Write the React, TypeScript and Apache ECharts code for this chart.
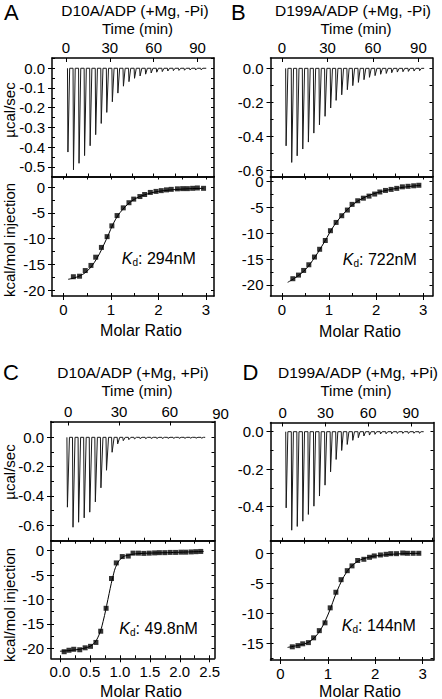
import React, { useEffect, useRef } from "react";
import * as echarts from "echarts";

const FONT = "'Liberation Sans', Arial, Helvetica, sans-serif";

// ---------- shared tick labels ----------
const timeTicks = [0, 30, 60, 90];
const ratioTicks = [0, 1, 2, 3];
const ratioTicksC = [0, 0.5, 1, 1.5, 2, 2.5];
const rawTicksA = [0, -0.1, -0.2, -0.3, -0.4, -0.5];
const rawTicksB = [0, -0.2, -0.4, -0.6];
const rawTicksC = [0, -0.2, -0.4, -0.6];
const rawTicksD = [0, -0.2, -0.4];
const heatTicks = [0, -5, -10, -15, -20];
const heatTicksD = [0, -5, -10, -15];

// ---------- Panel A: D10A/ADP (+Mg, -Pi) ----------
const aTitle = "D10A/ADP (+Mg, -Pi)";
const aKd = ": 294nM";
const aInjTime = [1, 4.8, 8.6, 12.4, 16.2, 20, 23.8, 27.6, 31.4, 35.2, 39, 42.8, 46.6, 50.4, 54.2, 58, 61.8, 65.6, 69.4, 73.2, 77, 80.8, 84.6, 88.4, 92.2];
const aInjPeak = [-0.425, -0.515, -0.482, -0.443, -0.393, -0.337, -0.28, -0.224, -0.17, -0.126, -0.091, -0.068, -0.051, -0.039, -0.03, -0.024, -0.02, -0.017, -0.014, -0.012, -0.011, -0.01, -0.009, -0.009, -0.008];
const aRunEnd = 96;
const aRatio = [0.21, 0.34, 0.46, 0.58, 0.68, 0.8, 0.92, 1.02, 1.13, 1.26, 1.38, 1.48, 1.61, 1.71, 1.83, 1.95, 2.06, 2.17, 2.27, 2.4, 2.51, 2.61, 2.72, 2.82, 2.95];
const aHeat = [-17.4, -17.3, -16.2, -15.2, -13.6, -11.7, -9.6, -7.5, -5.5, -4.0, -3.0, -2.3, -1.8, -1.4, -1.0, -0.8, -0.65, -0.5, -0.4, -0.3, -0.26, -0.26, -0.2, -0.13, -0.2];
const aFitRatio = [0.1, 0.3, 0.5, 0.7, 0.9, 1.1, 1.3, 1.5, 1.7, 2.0, 2.5, 2.95];
const aFitHeat = [-17.9, -17.4, -16.3, -13.9, -10.2, -6.2, -3.8, -2.3, -1.5, -0.8, -0.35, -0.2];

// ---------- Panel B: D199A/ADP (+Mg, -Pi) ----------
const bTitle = "D199A/ADP (+Mg, -Pi)";
const bKd = ": 722nM";
const bInjTime = [2.4, 6.1, 9.7, 13.4, 17.1, 20.7, 24.4, 28.1, 31.8, 35.4, 39.1, 42.8, 46.4, 50.1, 53.8, 57.4, 61.1, 64.8, 68.5, 72.1, 75.8, 79.5, 83.1, 86.8, 90.5];
const bInjPeak = [-0.457, -0.555, -0.516, -0.476, -0.435, -0.382, -0.333, -0.283, -0.234, -0.189, -0.156, -0.126, -0.102, -0.083, -0.067, -0.053, -0.043, -0.035, -0.03, -0.026, -0.022, -0.02, -0.018, -0.016, -0.014];
const bRunEnd = 93.8;
const bRatio = [0.23, 0.35, 0.46, 0.57, 0.69, 0.8, 0.92, 1.03, 1.15, 1.27, 1.39, 1.49, 1.61, 1.73, 1.85, 1.97, 2.08, 2.2, 2.32, 2.44, 2.56, 2.68, 2.8, 2.91];
const bHeat = [-18.8, -18.1, -17.2, -16.1, -14.6, -13.1, -11.4, -9.5, -7.9, -6.6, -5.5, -4.4, -3.7, -3.2, -2.8, -2.4, -2.0, -1.7, -1.5, -1.3, -1.0, -0.9, -0.8, -0.7];
const bFitRatio = [0.12, 0.3, 0.5, 0.7, 0.9, 1.1, 1.3, 1.5, 1.7, 2.0, 2.5, 2.95];
const bFitHeat = [-19.5, -18.5, -17.0, -14.6, -11.7, -8.6, -6.3, -4.5, -3.3, -2.2, -1.2, -0.7];

// ---------- Panel C: D10A/ADP (+Mg, +Pi) ----------
const cTitle = "D10A/ADP (+Mg, +Pi)";
const cKd = ": 49.8nM";
const cInjTime = [-0.8, 2.5, 5.8, 9.1, 12.4, 15.7, 19, 22.3, 25.6, 28.9, 32.2, 35.5, 38.8, 42.1, 45.4, 48.7, 52, 55.3, 58.6, 61.9, 65.2, 68.5, 71.8, 75.1, 78.4];
const cInjPeak = [-0.477, -0.614, -0.58, -0.55, -0.511, -0.441, -0.345, -0.225, -0.102, -0.045, -0.023, -0.016, -0.011, -0.009, -0.009, -0.008, -0.008, -0.008, -0.007, -0.007, -0.007, -0.007, -0.006, -0.006, -0.006];
const cRunEnd = 80.9;
const cRatio = [0.07, 0.15, 0.23, 0.33, 0.42, 0.51, 0.6, 0.68, 0.77, 0.86, 0.94, 1.04, 1.14, 1.22, 1.31, 1.4, 1.49, 1.58, 1.66, 1.75, 1.84, 1.93, 2.02, 2.1, 2.19, 2.27, 2.35];
const cHeat = [-20.7, -20.4, -20.2, -20.3, -19.9, -19.6, -18.8, -16.5, -11.8, -5.7, -2.5, -1.2, -1.1, -0.5, -0.5, -0.55, -0.5, -0.45, -0.4, -0.4, -0.35, -0.35, -0.3, -0.3, -0.25, -0.2, -0.15];
const cFitRatio = [0.0, 0.2, 0.4, 0.55, 0.65, 0.72, 0.8, 0.88, 0.95, 1.05, 1.15, 1.3, 1.8, 2.4];
const cFitHeat = [-20.6, -20.4, -20.0, -19.2, -17.3, -14.5, -10.0, -5.5, -2.8, -1.3, -0.9, -0.6, -0.4, -0.15];

// ---------- Panel D: D199A/ADP (+Mg, +Pi) ----------
const dTitle = "D199A/ADP (+Mg, +Pi)";
const dKd = ": 144nM";
const dInjTime = [2.1, 6, 9.9, 13.8, 17.7, 21.6, 25.5, 29.4, 33.3, 37.2, 41.1, 45, 48.9, 52.8, 56.7, 60.6, 64.5, 68.4, 72.3, 76.2, 80.1, 84, 87.9, 91.8, 95.7];
const dInjPeak = [-0.406, -0.525, -0.505, -0.477, -0.441, -0.397, -0.343, -0.285, -0.214, -0.148, -0.1, -0.068, -0.046, -0.032, -0.023, -0.018, -0.014, -0.012, -0.011, -0.011, -0.009, -0.009, -0.009, -0.008, -0.008];
const dRunEnd = 99;
const dRatio = [0.25, 0.37, 0.47, 0.59, 0.7, 0.82, 0.94, 1.05, 1.17, 1.28, 1.41, 1.51, 1.63, 1.76, 1.88, 1.98, 2.11, 2.23, 2.33, 2.45, 2.58, 2.68, 2.8, 2.92];
const dHeat = [-15.6, -15.4, -15.1, -14.9, -14.1, -12.9, -11.6, -9.1, -6.5, -4.4, -2.9, -2.1, -1.2, -1.0, -0.67, -0.44, -0.28, -0.17, -0.06, -0.06, 0.05, 0, 0, 0];
const dFitRatio = [0.15, 0.4, 0.6, 0.8, 1.0, 1.2, 1.4, 1.6, 1.8, 2.1, 2.5, 2.95];
const dFitHeat = [-15.7, -15.3, -14.8, -13.3, -10.3, -6.2, -3.1, -1.5, -0.8, -0.35, -0.1, 0];

// ---------- layout (pixels) ----------
type Box = { left: number; top: number; width: number; height: number };
const LAYOUT: Record<string, { raw: Box; iso: Box; tMin: number; tMax: number; rMin: number; rMax: number; xMin: number; xMax: number; hMin: number; hMax: number }> = {
  A: { raw: { left: 52, top: 58, width: 162, height: 118.5 }, iso: { left: 52, top: 176.5, width: 162, height: 119.5 }, tMin: -9.6, tMax: 101.3, rMin: -0.549, rMax: 0.052, xMin: -0.24, xMax: 3.17, hMin: -21.15, hMax: 2.1 },
  B: { raw: { left: 270.5, top: 58, width: 162, height: 118.5 }, iso: { left: 270.5, top: 176.5, width: 162, height: 119.5 }, tMin: -7.6, tMax: 99.3, rMin: -0.638, rMax: 0.061, xMin: -0.245, xMax: 3.2, hMin: -22.15, hMax: 1.0 },
  C: { raw: { left: 51, top: 421.5, width: 163.5, height: 119.2 }, iso: { left: 51, top: 540.7, width: 163.5, height: 117.6 }, tMin: -10.2, tMax: 86.4, rMin: -0.706, rMax: 0.108, xMin: -0.15, xMax: 2.58, hMin: -22.05, hMax: 2.05 },
  D: { raw: { left: 270.5, top: 422.5, width: 163, height: 118.2 }, iso: { left: 270.5, top: 540.7, width: 163, height: 119.3 }, tMin: -8.6, tMax: 105.9, rMin: -0.581, rMax: 0.049, xMin: -0.21, xMax: 3.23, hMin: -17.8, hMax: 2.1 },
};

function thermogram(times: number[], peaks: number[], end: number) {
  const pts: number[][] = [];
  times.forEach((t, i) => {
    pts.push([t, 0], [t + 0.3, peaks[i]], [t + 1.5, 0]);
  });
  pts.push([end, 0]);
  return pts;
}
function pairs(xs: number[], ys: number[]) {
  return xs.map((x, i) => [x, ys[i]]);
}
// tick positions at half the labelled step, inside the axis range
function halfSteps(ticks: number[], min: number, max: number) {
  const h = Math.abs(ticks[1] - ticks[0]) / 2;
  const out: number[] = [];
  for (let k = Math.ceil(min / h - 1e-9); k * h <= max + 1e-9; k++) out.push(+(k * h).toFixed(6));
  return out;
}

function buildOption() {
  const grids: any[] = [];
  const xAxes: any[] = [];
  const yAxes: any[] = [];
  const series: any[] = [];
  const graphic: any[] = [];

  const mkAxis = (gridIndex: number, position: string, min: number, max: number, ticks: number[], fmt: ((v: number) => string) | null, inside: boolean, len = 4, line = true) => ({
    type: "value",
    gridIndex,
    position,
    min,
    max,
    scale: true,
    axisLine: { show: line, onZero: false, lineStyle: { color: "#000", width: 1.5 } },
    axisTick: { show: true, inside, length: len, customValues: ticks, lineStyle: { color: "#000", width: 1 } },
    axisLabel: fmt
      ? { show: true, customValues: ticks, formatter: (v: number) => fmt(v), color: "#000", fontSize: 15, fontFamily: FONT, margin: position === "top" ? 3 : position === "left" ? 7 : 6 }
      : { show: false },
    splitLine: { show: false },
  });

  const addPlot = (box: Box, xpos: "top" | "bottom", xr: [number, number], xt: number[], xf: (v: number) => string, yr: [number, number], yt: number[], yf: (v: number) => string) => {
    const gi = grids.length;
    grids.push({ left: box.left, top: box.top, width: box.width, height: box.height, containLabel: false });
    const xMinor = halfSteps(xt, xr[0], xr[1]);
    const yMinor = halfSteps(yt, yr[0], yr[1]);
    const xi = xAxes.length;
    xAxes.push(mkAxis(gi, xpos, xr[0], xr[1], xt, xf, xpos === "top"));
    xAxes.push(mkAxis(gi, xpos === "top" ? "bottom" : "top", xr[0], xr[1], xMinor, null, true, 3));
    if (xpos === "bottom") xAxes.push(mkAxis(gi, "bottom", xr[0], xr[1], xMinor, null, true, 3, false));
    const yi = yAxes.length;
    yAxes.push(mkAxis(gi, "left", yr[0], yr[1], yt, yf, false));
    yAxes.push(mkAxis(gi, "right", yr[0], yr[1], yMinor, null, true, 3));
    yAxes.push(mkAxis(gi, "left", yr[0], yr[1], yMinor, null, true, 3, false));
    return { xi, yi };
  };

  const f1 = (v: number) => v.toFixed(1);
  const f0 = (v: number) => String(v);

  const panels = [
    { key: "A", rawT: rawTicksA, heatT: heatTicks, rT: ratioTicks, rF: f0, inj: aInjTime, pk: aInjPeak, end: aRunEnd, rx: aRatio, hy: aHeat, fx: aFitRatio, fy: aFitHeat },
    { key: "B", rawT: rawTicksB, heatT: heatTicks, rT: ratioTicks, rF: f0, inj: bInjTime, pk: bInjPeak, end: bRunEnd, rx: bRatio, hy: bHeat, fx: bFitRatio, fy: bFitHeat },
    { key: "C", rawT: rawTicksC, heatT: heatTicks, rT: ratioTicksC, rF: f1, inj: cInjTime, pk: cInjPeak, end: cRunEnd, rx: cRatio, hy: cHeat, fx: cFitRatio, fy: cFitHeat },
    { key: "D", rawT: rawTicksD, heatT: heatTicksD, rT: ratioTicks, rF: f0, inj: dInjTime, pk: dInjPeak, end: dRunEnd, rx: dRatio, hy: dHeat, fx: dFitRatio, fy: dFitHeat },
  ];

  panels.forEach((p) => {
    const L = LAYOUT[p.key];
    const top = addPlot(L.raw, "top", [L.tMin, L.tMax], timeTicks, f0, [L.rMin, L.rMax], p.rawT, f1);
    series.push({
      type: "line",
      xAxisIndex: top.xi,
      yAxisIndex: top.yi,
      data: thermogram(p.inj, p.pk, p.end),
      showSymbol: false,
      symbol: "none",
      lineStyle: { color: "#1a1a1a", width: 1 },
      clip: true,
    });
    const bot = addPlot(L.iso, "bottom", [L.xMin, L.xMax], p.rT, p.rF, [L.hMin, L.hMax], p.heatT, f0);
    series.push({
      type: "line",
      xAxisIndex: bot.xi,
      yAxisIndex: bot.yi,
      data: pairs(p.fx, p.fy),
      smooth: 0.4,
      showSymbol: false,
      symbol: "none",
      lineStyle: { color: "#000", width: 1 },
    });
    series.push({
      type: "scatter",
      xAxisIndex: bot.xi,
      yAxisIndex: bot.yi,
      data: pairs(p.rx, p.hy),
      symbol: "rect",
      symbolSize: 5,
      itemStyle: { color: "#000" },
    });
  });

  const txt = (text: string, x: number, y: number, size: number, align = "center", extra: any = {}) => ({
    type: "text",
    x,
    y,
    silent: true,
    style: { text, fill: "#000", font: `${extra.italic ? "italic " : ""}${size}px ${FONT}`, align, verticalAlign: "middle" },
    ...(extra.rotation ? { rotation: extra.rotation } : {}),
  });

  // panel letters
  graphic.push(txt("A", 4, 12, 22, "left"));
  graphic.push(txt("B", 231, 12, 22, "left"));
  graphic.push(txt("C", 3, 372, 22, "left"));
  graphic.push(txt("D", 242.5, 372, 22, "left"));
  // titles
  graphic.push(txt(aTitle, 135, 10.5, 15.5));
  graphic.push(txt(bTitle, 353, 10.5, 15.5));
  graphic.push(txt(cTitle, 133, 372, 15.5));
  graphic.push(txt(dTitle, 358, 372, 15.5));
  // time axis names
  graphic.push(txt("Time (min)", 137.5, 28, 15));
  graphic.push(txt("Time (min)", 356, 28, 15));
  graphic.push(txt("Time (min)", 137, 390, 15));
  graphic.push(txt("Time (min)", 356, 390, 15));
  // C's out-of-box 90 label
  graphic.push(txt("90", 220.5, 413.5, 15));
  // molar ratio names
  graphic.push(txt("Molar Ratio", 141, 330, 16));
  graphic.push(txt("Molar Ratio", 360, 331.5, 16));
  graphic.push(txt("Molar Ratio", 141, 691, 16));
  graphic.push(txt("Molar Ratio", 360, 691, 16));
  // y names
  graphic.push(txt("µcal/sec", 9, 110, 15, "center", { rotation: Math.PI / 2 }));
  graphic.push(txt("kcal/mol injection", 9, 240, 15, "center", { rotation: Math.PI / 2 }));
  graphic.push(txt("µcal/sec", 9, 472, 15, "center", { rotation: Math.PI / 2 }));
  graphic.push(txt("kcal/mol injection", 9, 605, 15, "center", { rotation: Math.PI / 2 }));
  // Kd labels
  const kd = (x: number, y: number, rest: string) => {
    graphic.push(txt("K", x, y, 16, "left", { italic: true }));
    graphic.push(txt("d", x + 10.7, y + 4, 10, "left"));
    graphic.push(txt(rest, x + 16.3, y, 16, "left"));
  };
  kd(121.7, 258.5, aKd);
  kd(342.7, 259.2, bKd);
  kd(119.3, 628, cKd);
  kd(341.7, 625.8, dKd);

  return {
    animation: false,
    backgroundColor: "#fff",
    grid: grids,
    xAxis: xAxes,
    yAxis: yAxes,
    series,
    graphic,
  };
}

export default function App() {
  const ref = useRef<HTMLDivElement>(null);
  useEffect(() => {
    if (!ref.current) return;
    const chart = echarts.init(ref.current, undefined, { renderer: "svg" });
    chart.setOption(buildOption() as any);
    return () => chart.dispose();
  }, []);
  return <div ref={ref} style={{ position: "absolute", left: 0, top: 0, width: 442, height: 699, background: "#fff" }} />;
}
